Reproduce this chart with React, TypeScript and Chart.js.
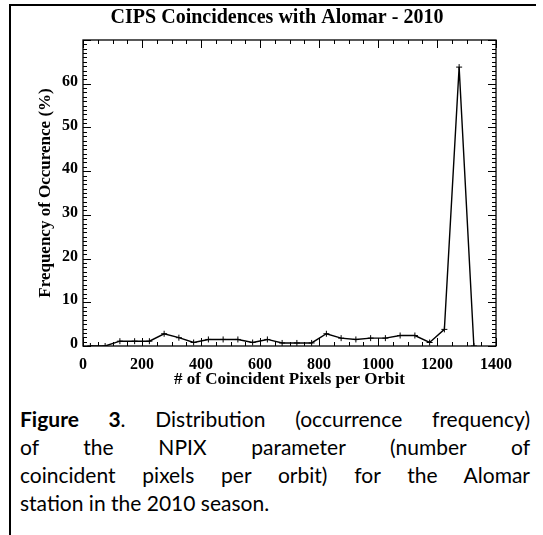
import React, { useEffect, useRef } from "react";
import { Chart, registerables } from "chart.js";

Chart.register(...registerables);

const TITLE = "CIPS Coincidences with Alomar - 2010";
const X_TITLE = "# of Coincident Pixels per Orbit";
const Y_TITLE = "Frequency of Occurence (%)";

const NPIX_BINS = [
  25, 75, 125, 175, 225, 275, 325, 375, 425, 475, 525, 575, 625, 675,
  725, 775, 825, 875, 925, 975, 1025, 1075, 1125, 1175, 1225, 1275, 1325,
];
const FREQ_PCT = [
  0, 0, 1.1, 1.1, 1.1, 2.8, 1.9, 0.8, 1.5, 1.5, 1.5, 0.8, 1.5, 0.7,
  0.7, 0.7, 2.8, 1.8, 1.5, 1.8, 1.8, 2.4, 2.4, 0.8, 3.8, 63.8, 0,
];
const X_TICKS = [0, 200, 400, 600, 800, 1000, 1200, 1400];
const Y_TICKS = [0, 10, 20, 30, 40, 50, 60];
const X_RANGE = [0, 1400];
const Y_RANGE = [0, 70];
const X_MINOR_STEP = 50;
const Y_MINOR_STEP = 1;

const CAPTION_LINES = [
  "of the NPIX parameter (number of",
  "coincident pixels per orbit) for the Alomar",
];
const CAPTION_LAST = "station in the 2010 season.";

const SERIF = "'Liberation Serif', 'Times New Roman', serif";

const idlTicks = {
  id: "idlTicks",
  afterDraw(chart: any) {
    const { ctx, chartArea, scales } = chart;
    const { left, right, top, bottom } = chartArea;
    const x = scales.x;
    const y = scales.y;
    ctx.save();
    ctx.strokeStyle = "#000";
    ctx.lineWidth = 1.3;
    ctx.strokeRect(left, top, right - left, bottom - top);
    ctx.lineWidth = 1;
    ctx.beginPath();
    for (let v = X_RANGE[0]; v <= X_RANGE[1]; v += X_MINOR_STEP) {
      const px = Math.round(x.getPixelForValue(v)) + 0.5;
      const len = X_TICKS.includes(v) ? 8 : 4;
      ctx.moveTo(px, bottom);
      ctx.lineTo(px, bottom - len);
      ctx.moveTo(px, top);
      ctx.lineTo(px, top + len);
    }
    for (let v = Y_RANGE[0]; v <= Y_RANGE[1]; v += Y_MINOR_STEP) {
      const py = Math.round(y.getPixelForValue(v)) + 0.5;
      const len = v % 10 === 0 ? 8 : 4;
      ctx.moveTo(left, py);
      ctx.lineTo(left + len, py);
      ctx.moveTo(right, py);
      ctx.lineTo(right - len, py);
    }
    ctx.stroke();
    ctx.restore();
  },
};

const PAD_LEFT = 58;
const PLOT_LEFT = 83;

function ChartCanvas() {
  const ref = useRef<HTMLCanvasElement | null>(null);
  useEffect(() => {
    if (!ref.current) return;
    const chart = new Chart(ref.current, {
      type: "line",
      data: {
        datasets: [
          {
            data: NPIX_BINS.map((b, i) => ({ x: b, y: FREQ_PCT[i] })),
            borderColor: "#000",
            borderWidth: 1.4,
            pointStyle: "cross",
            pointRadius: 3,
            pointBorderWidth: 1,
            pointBorderColor: "#000",
            tension: 0,
            fill: false,
          },
        ],
      },
      plugins: [idlTicks],
      options: {
        animation: false,
        responsive: false,
        events: [],
        layout: { padding: { left: PAD_LEFT, right: 47, top: 0, bottom: 0 } },
        plugins: {
          legend: { display: false },
          tooltip: { enabled: false },
          title: {
            display: true,
            text: TITLE,
            color: "#000",
            font: { family: SERIF, size: 20, weight: "bold" },
            padding: { top: 6, bottom: 10 },
          },
        },
        scales: {
          x: {
            type: "linear",
            min: X_RANGE[0],
            max: X_RANGE[1],
            grid: { display: false, drawTicks: false },
            border: { display: false },
            afterBuildTicks: (s: any) => {
              s.ticks = X_TICKS.map((value) => ({ value }));
            },
            afterFit: (s: any) => {
              s.height = 44;
            },
            ticks: {
              color: "#000",
              font: { family: SERIF, size: 16, weight: "bold" },
              padding: 9,
              maxRotation: 0,
              autoSkip: false,
              callback: (v: any) => String(v),
            },
            title: {
              display: true,
              text: X_TITLE,
              color: "#000",
              font: { family: SERIF, size: 17, weight: "bold" },
              padding: { top: 0, bottom: 0 },
            },
          },
          y: {
            type: "linear",
            min: Y_RANGE[0],
            max: Y_RANGE[1],
            grid: { display: false, drawTicks: false },
            border: { display: false },
            afterBuildTicks: (s: any) => {
              s.ticks = Y_TICKS.map((value) => ({ value }));
            },
            afterFit: (s: any) => {
              s.width = PLOT_LEFT - PAD_LEFT;
            },
            ticks: {
              color: "#000",
              font: { family: SERIF, size: 16, weight: "bold" },
              padding: 5,
              labelOffset: -2,
              autoSkip: false,
              callback: (v: any) => String(v),
            },
            title: {
              display: true,
              text: Y_TITLE,
              color: "#000",
              font: { family: SERIF, size: 17, weight: "bold" },
              padding: { top: 45 - PAD_LEFT - 10, bottom: 0 },
            },
          },
        },
      },
    } as any);
    return () => chart.destroy();
  }, []);
  return (
    <canvas
      ref={ref}
      width={543}
      height={390}
      style={{ position: "absolute", left: 0, top: 0, width: 543, height: 390 }}
    />
  );
}

const justifiedLine: React.CSSProperties = {
  textAlign: "justify",
  textAlignLast: "justify",
  whiteSpace: "nowrap",
};

export default function App() {
  return (
    <div
      style={{
        position: "fixed",
        left: 0,
        top: 0,
        width: 543,
        height: 535,
        background: "#fff",
        overflow: "hidden",
      }}
    >
      <div
        style={{
          position: "absolute",
          left: 9,
          top: 4,
          width: 525,
          height: 540,
          borderTop: "2px solid #000",
          borderLeft: "2px solid #000",
        }}
      />
      <ChartCanvas />
      <div
        style={{
          position: "absolute",
          left: 20,
          top: 405,
          width: 510,
          fontFamily: "Lato, 'Open Sans', sans-serif",
          fontSize: 21,
          lineHeight: "28px",
          color: "#000",
        }}
      >
        <div style={justifiedLine}>
          <b>Figure 3</b>. Distribution (occurrence frequency)
        </div>
        {CAPTION_LINES.map((t) => (
          <div key={t} style={justifiedLine}>
            {t}
          </div>
        ))}
        <div style={{ textAlign: "left" }}>{CAPTION_LAST}</div>
      </div>
    </div>
  );
}
